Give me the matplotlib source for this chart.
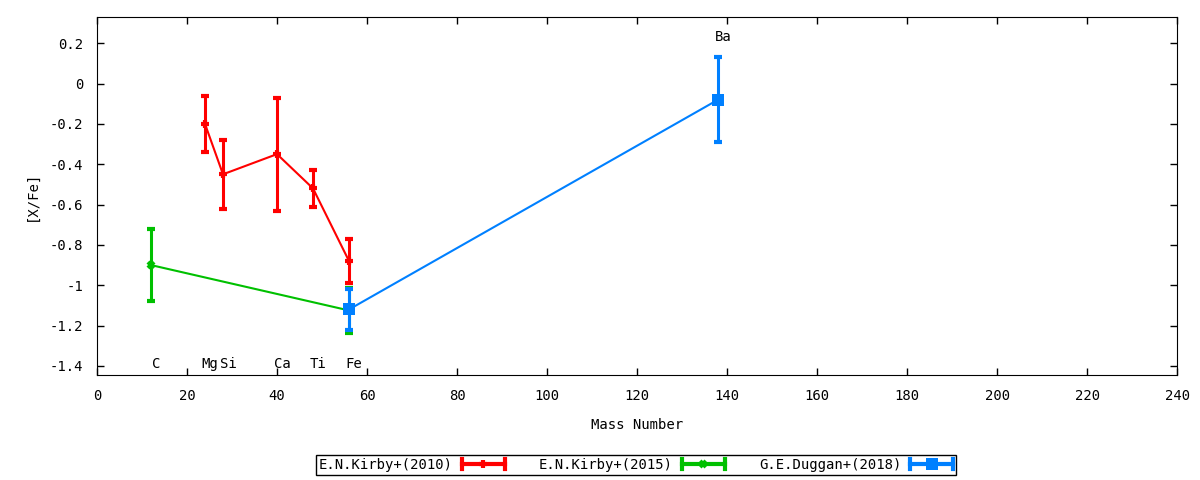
import numpy as np
import matplotlib
matplotlib.use("Agg")
import matplotlib.pyplot as plt
from matplotlib.lines import Line2D
from matplotlib.legend_handler import HandlerBase

plt.rcParams['font.family'] = ['DejaVu Sans Mono']
plt.rcParams['font.size'] = 10
plt.rcParams['axes.unicode_minus'] = False

# E.N.Kirby+(2010)
k10_mass = [24, 28, 40, 48, 56]
k10_val = [-0.20, -0.45, -0.35, -0.52, -0.88]
k10_err = [0.14, 0.17, 0.28, 0.09, 0.11]

# E.N.Kirby+(2015)
k15_mass = [12, 56]
k15_val = [-0.90, -1.125]
k15_err = [0.18, 0.11]

# G.E.Duggan+(2018)
d18_mass = [56, 138]
d18_val = [-1.12, -0.08]
d18_err = [0.10, 0.21]

elements = ['C', 'Mg', 'Si', 'Ca', 'Ti', 'Fe', 'Ba']
elem_mass = [12, 24, 28, 40, 48, 56, 138]
elem_y = [-1.39, -1.39, -1.39, -1.39, -1.39, -1.39, 0.23]

series = [
    ('E.N.Kirby+(2010)', k10_mass, k10_val, k10_err, '#ff0000', '+', 6, 3),
    ('E.N.Kirby+(2015)', k15_mass, k15_val, k15_err, '#00c000', 'x', 5, 3),
    ('G.E.Duggan+(2018)', d18_mass, d18_val, d18_err, '#0080ff', 's', 8, 0),
]


class ErrHandler(HandlerBase):
    # gnuplot style key sample: horizontal bar with end caps and centre point
    def create_artists(self, legend, orig, xd, yd, w, h, fontsize, trans):
        c, mk, ms, mew = orig
        y = h / 2 - yd
        x0, x1 = -xd, -xd + w
        arts = [Line2D([x0, x1], [y, y], color=c, lw=3),
                Line2D([x0, x0], [y - 3.5, y + 3.5], color=c, lw=3),
                Line2D([x1, x1], [y - 3.5, y + 3.5], color=c, lw=3),
                Line2D([(x0 + x1) / 2], [y], color=c, marker=mk, ms=ms,
                       mew=mew, ls='')]
        for a in arts:
            a.set_transform(trans)
        return arts


fig = plt.figure(figsize=(12, 4.8), dpi=100)
ax = fig.add_axes([0.0808, 0.21875, 0.9002, 0.7459])

handles = []
labels = []
for label, m, v, e, c, mk, ms, mew in series:
    ax.plot(m, v, color=c, lw=1.5, zorder=2)
    ax.errorbar(m, v, yerr=e, color=c, fmt='none',
                elinewidth=2.2, capsize=2.9, capthick=3, zorder=3)
    ax.plot(m, v, ls='', color=c, marker=mk, ms=ms, mew=mew, zorder=4)
    handles.append((c, mk, ms, mew))
    labels.append(label)

for el, m, y in zip(elements, elem_mass, elem_y):
    ax.text(m + 1.1, y, el, ha='center', va='center')

yt = np.round(np.arange(-1.4, 0.21, 0.2), 1)
ax.set_xlim(0, 240)
ax.set_ylim(-1.445, 0.33)
ax.set_xticks(np.arange(0, 241, 20))
ax.set_yticks(yt)
ax.set_yticklabels(['%g' % (t if t != 0 else 0) for t in yt])
ax.tick_params(direction='in', top=True, right=True, length=5, width=1)
ax.tick_params(axis='y', pad=10)
ax.tick_params(axis='x', pad=10)
ax.set_xlabel('Mass Number', labelpad=11)
ax.set_ylabel('[X/Fe]', labelpad=8)

leg = fig.legend(handles=handles, labels=labels, loc='center',
                 bbox_to_anchor=(0.53, 0.031),
                 handler_map={tuple: ErrHandler()},
                 ncol=3, markerfirst=False, frameon=True, fancybox=False,
                 edgecolor='black', framealpha=1, handlelength=3.1,
                 columnspacing=2.45, borderpad=0.2, handletextpad=0.65,
                 borderaxespad=0)
leg.get_frame().set_linewidth(1)

plt.savefig('out.png', dpi=100)
plt.close()
